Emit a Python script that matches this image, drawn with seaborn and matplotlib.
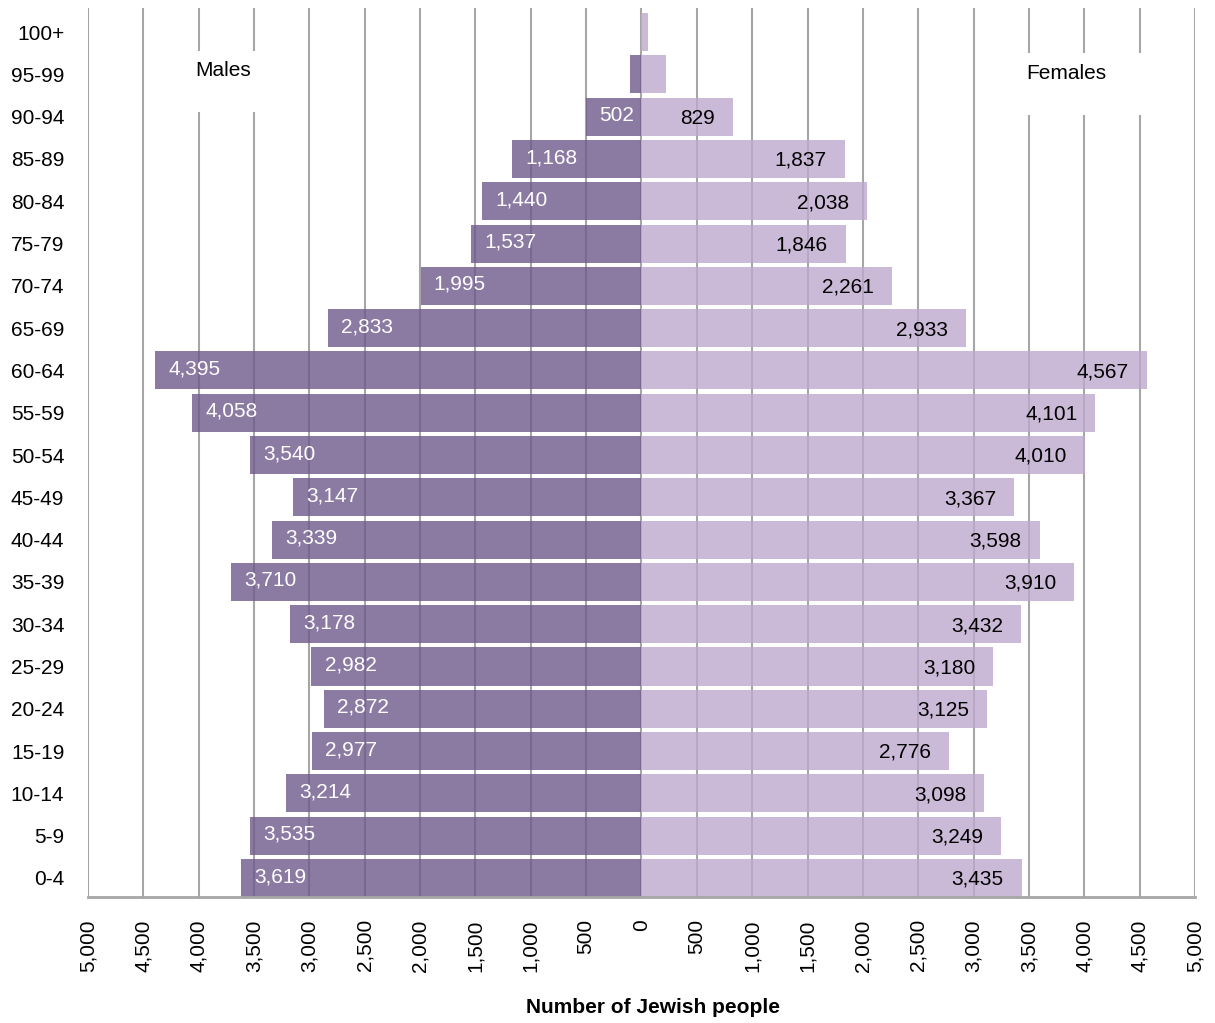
import matplotlib
matplotlib.use("Agg")
import matplotlib.pyplot as plt
import seaborn as sns
import pandas as pd
from matplotlib.patches import Rectangle

ages = ["100+", "95-99", "90-94", "85-89", "80-84", "75-79", "70-74", "65-69",
        "60-64", "55-59", "50-54", "45-49", "40-44", "35-39", "30-34", "25-29",
        "20-24", "15-19", "10-14", "5-9", "0-4"]
males = [0, 100, 502, 1168, 1440, 1537, 1995, 2833, 4395, 4058, 3540, 3147,
         3339, 3710, 3178, 2982, 2872, 2977, 3214, 3535, 3619]
females = [55, 225, 829, 1837, 2038, 1846, 2261, 2933, 4567, 4101, 4010, 3367,
           3598, 3910, 3432, 3180, 3125, 2776, 3098, 3249, 3435]
labelled_from = 2  # first row index with value labels
ticks = list(range(-5000, 5001, 500))
tick_labels = [f"{abs(t):,}" for t in ticks]

sns.set_theme(style="white")
plt.rcParams["font.family"] = ["Liberation Sans", "DejaVu Sans"]

df = pd.DataFrame({"age": ages, "male": [-m for m in males], "female": females})

fig = plt.figure(figsize=(12.15, 10.23), dpi=100)
ax = fig.add_axes([0.0724, 0.1232, 0.9111, 0.8690])

grid_c = "#a6a6a6"
for t in ticks:
    ax.axvline(t, color=grid_c, lw=1.5, zorder=0, solid_capstyle="butt")

sns.barplot(data=df, x="male", y="age", order=ages, orient="h", color="#6e5a8c",
            saturation=1, alpha=0.8, width=0.9, linewidth=0, ax=ax, zorder=2)
sns.barplot(data=df, x="female", y="age", order=ages, orient="h", color="#bea9ce",
            saturation=1, alpha=0.8, width=0.9, linewidth=0, ax=ax, zorder=2)

for i, (m, f) in enumerate(zip(males, females)):
    if i < labelled_from:
        continue
    ax.annotate(f"{m:,}", xy=(-m, i), xytext=(9.5, 1), textcoords="offset points",
                ha="left", va="center", color="white", fontsize=15, zorder=5)
    ax.annotate(f"{f:,}", xy=(f, i), xytext=(-13, -1), textcoords="offset points",
                ha="right", va="center", color="black", fontsize=15, zorder=5)

# white boxes behind series captions
ax.add_patch(Rectangle((-4100, 0.45), 700, 1.45, facecolor="white", edgecolor="none", zorder=3))
ax.add_patch(Rectangle((3450, 0.5), 1150, 1.46, facecolor="white", edgecolor="none", zorder=3))
ax.text(-3776, 0.9, "Males", ha="center", va="center", fontsize=15, color="black", zorder=4)
ax.text(3839, 0.97, "Females", ha="center", va="center", fontsize=15, color="black", zorder=4)

ax.set_xlim(-5000, 5000)
ax.set_ylim(20.45, -0.57)
ax.set_xticks(ticks)
ax.set_xticklabels(tick_labels, rotation=90, va="top", ha="center")
ax.tick_params(axis="x", length=0, pad=16, labelsize=15, colors="black")
ax.tick_params(axis="y", length=0, pad=17, labelsize=15, colors="black")
ax.set_xlabel("")
ax.set_ylabel("")
for s in ["top", "right", "left"]:
    ax.spines[s].set_visible(False)
ax.spines["bottom"].set_color(grid_c)
ax.spines["bottom"].set_linewidth(2)
ax.spines["bottom"].set_zorder(6)

fig.text(0.5375, 0.0147, "Number of Jewish people", ha="center", va="center",
         fontsize=15, fontweight="bold", color="black")

fig.savefig("out.png", dpi=100)
